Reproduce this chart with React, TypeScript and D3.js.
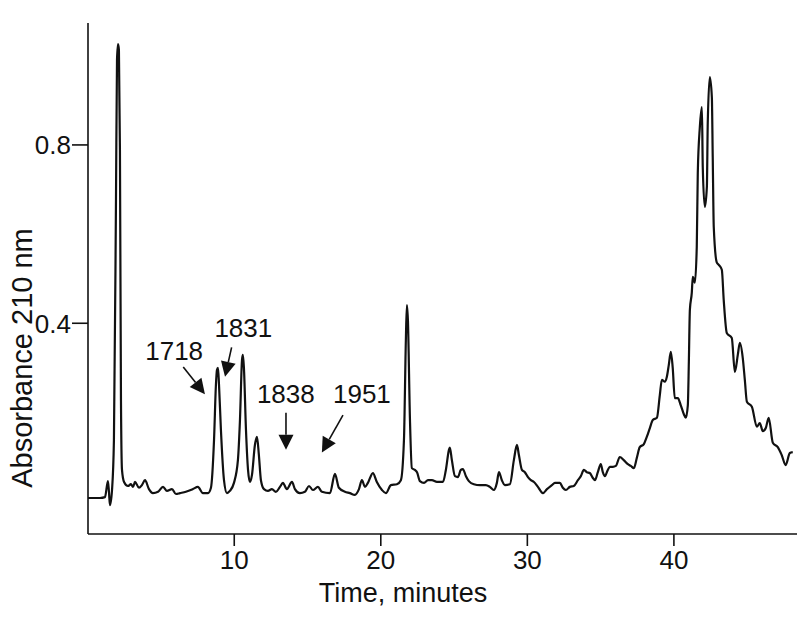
import React from "react";
import * as d3 from "d3";

// Chromatogram trace: time (minutes) and absorbance at 210 nm
const times: number[] = [
  0.02, 0.84, 1.18, 1.38, 1.45, 1.52, 1.66, 1.79, 1.93, 2.0, 2.07, 2.13, 2.2, 2.27, 2.34, 2.48, 2.75, 2.95, 3.09, 3.23,
  3.5, 3.7, 3.91, 4.18, 4.45, 4.8, 5.14, 5.41, 5.75, 6.02, 6.3, 6.7, 7.18, 7.52, 7.86, 8.21, 8.41, 8.62, 8.75, 8.82,
  8.89, 8.96, 9.09, 9.3, 9.5, 9.7, 9.98, 10.25, 10.39, 10.53, 10.59, 10.66, 10.8, 10.94, 11.07, 11.21, 11.41, 11.55, 11.68, 11.82,
  12.03, 12.3, 12.57, 12.84, 13.12, 13.32, 13.59, 13.94, 14.14, 14.48, 14.82, 15.1, 15.37, 15.71, 15.98, 16.53, 16.87, 17.14, 17.55, 17.89,
  18.23, 18.51, 18.71, 18.92, 19.12, 19.46, 19.73, 20.08, 20.35, 20.69, 21.1, 21.37, 21.58, 21.71, 21.78, 21.85, 21.99, 22.12, 22.33, 22.47,
  22.67, 22.95, 23.22, 23.49, 23.83, 24.24, 24.44, 24.65, 24.71, 24.85, 25.06, 25.26, 25.46, 25.6, 25.81, 26.01, 26.35, 26.76, 27.17, 27.44,
  27.71, 27.92, 28.06, 28.26, 28.47, 28.81, 29.08, 29.29, 29.42, 29.63, 29.83, 30.04, 30.24, 30.45, 30.72, 31.06, 31.34, 31.68, 31.88, 32.22,
  32.42, 32.63, 32.9, 33.17, 33.45, 33.65, 33.86, 34.06, 34.26, 34.47, 34.61, 34.81, 35.01, 35.15, 35.29, 35.49, 35.63, 35.84, 36.04, 36.31,
  36.58, 36.86, 37.06, 37.27, 37.47, 37.67, 37.95, 38.15, 38.36, 38.56, 38.84, 39.04, 39.18, 39.38, 39.52, 39.65, 39.79, 39.92, 40.06, 40.27,
  40.47, 40.68, 40.81, 40.95, 41.02, 41.09, 41.22, 41.29, 41.43, 41.56, 41.63, 41.77, 41.91, 41.97, 42.11, 42.25, 42.31, 42.45, 42.59, 42.65,
  42.72, 42.93, 43.06, 43.27, 43.4, 43.61, 43.95, 44.16, 44.36, 44.5, 44.7, 44.84, 44.98, 45.32, 45.66, 45.86, 46.07, 46.27, 46.47, 46.75,
  47.09, 47.36, 47.63, 47.91, 48.11,
];

const absorbance: number[] = [
  0.008, 0.008, 0.01, 0.046, 0.022, -0.008, 0.026, 0.138, 0.677, 0.991, 1.026, 1.013, 0.789, 0.228, 0.071, 0.044, 0.035, 0.039, 0.033, 0.044,
  0.031, 0.037, 0.048, 0.028, 0.019, 0.022, 0.033, 0.024, 0.028, 0.017, 0.019, 0.022, 0.028, 0.033, 0.019, 0.019, 0.031, 0.138, 0.262, 0.295,
  0.3, 0.262, 0.161, 0.048, 0.019, 0.024, 0.042, 0.093, 0.183, 0.318, 0.329, 0.3, 0.161, 0.071, 0.044, 0.06, 0.127, 0.145, 0.105, 0.048,
  0.028, 0.024, 0.028, 0.022, 0.033, 0.042, 0.028, 0.044, 0.028, 0.019, 0.022, 0.035, 0.026, 0.033, 0.022, 0.019, 0.062, 0.031, 0.022, 0.019,
  0.015, 0.028, 0.048, 0.033, 0.042, 0.064, 0.044, 0.026, 0.019, 0.037, 0.039, 0.048, 0.138, 0.362, 0.441, 0.407, 0.183, 0.075, 0.071, 0.066,
  0.046, 0.042, 0.048, 0.048, 0.044, 0.044, 0.071, 0.116, 0.121, 0.093, 0.057, 0.055, 0.071, 0.073, 0.057, 0.046, 0.039, 0.037, 0.037, 0.033,
  0.026, 0.042, 0.066, 0.048, 0.037, 0.039, 0.093, 0.127, 0.105, 0.071, 0.066, 0.055, 0.048, 0.044, 0.033, 0.019, 0.028, 0.037, 0.042, 0.042,
  0.031, 0.026, 0.033, 0.035, 0.048, 0.057, 0.071, 0.066, 0.064, 0.053, 0.048, 0.066, 0.084, 0.066, 0.057, 0.071, 0.078, 0.078, 0.08, 0.1,
  0.093, 0.084, 0.08, 0.075, 0.098, 0.122, 0.129, 0.145, 0.165, 0.183, 0.188, 0.239, 0.273, 0.269, 0.28, 0.306, 0.336, 0.3, 0.232, 0.232,
  0.216, 0.196, 0.188, 0.216, 0.313, 0.43, 0.468, 0.504, 0.491, 0.571, 0.737, 0.84, 0.885, 0.75, 0.661, 0.706, 0.849, 0.952, 0.907, 0.773,
  0.616, 0.536, 0.531, 0.52, 0.452, 0.378, 0.367, 0.291, 0.329, 0.356, 0.322, 0.273, 0.224, 0.213, 0.168, 0.176, 0.158, 0.165, 0.188, 0.132,
  0.122, 0.104, 0.082, 0.109, 0.111,
];

const xTicks: number[] = [10, 20, 30, 40];
const yTicks: number[] = [0.4, 0.8];
const yTickLabels: string[] = ["0.4", "0.8"];

// Peak annotations (labels, label anchor, arrow start and tip in data units)
const annLabels: string[] = ["1718", "1831", "1838", "1951"];
const annTextT: number[] = [5.9, 10.62, 13.52, 18.71];
const annTextV: number[] = [0.318, 0.369, 0.221, 0.222];
const annFromT: number[] = [6.52, 9.82, 13.53, 17.42];
const annFromV: number[] = [0.302, 0.346, 0.199, 0.194];
const annToT: number[] = [8.0, 9.37, 13.53, 15.98];
const annToV: number[] = [0.241, 0.28, 0.116, 0.11];

const W = 800;
const H = 620;
const FONT = "'Liberation Sans', Arial, Helvetica, sans-serif";

export default function App() {
  const x = d3.scaleLinear().domain([0, 48.4]).range([87.7, 797]);
  const y = d3.scaleLinear().domain([-0.0727, 1.0735]).range([534, 23]);

  const data = times.map((t, i) => [t, absorbance[i]] as [number, number]);
  const line = d3
    .line<[number, number]>()
    .x((d) => x(d[0]))
    .y((d) => y(d[1]))
    .curve(d3.curveMonotoneX);

  const x0 = 88;
  const x1 = 797;
  const yBase = 534;
  const yTop = 23;

  const arrows = annLabels.map((lab, i) => {
    const sx = x(annFromT[i]);
    const sy = y(annFromV[i]);
    const ex = x(annToT[i]);
    const ey = y(annToV[i]);
    const dx = ex - sx;
    const dy = ey - sy;
    const len = Math.sqrt(dx * dx + dy * dy);
    const ux = dx / len;
    const uy = dy / len;
    const headL = 15;
    const headW = 7.5;
    const bx = ex - ux * headL;
    const by = ey - uy * headL;
    const px = -uy;
    const py = ux;
    const head = `M${ex},${ey}L${bx + px * headW},${by + py * headW}L${bx - px * headW},${by - py * headW}Z`;
    return { lab, sx, sy, bx, by, head, tx: x(annTextT[i]), ty: y(annTextV[i]) };
  });

  return (
    <svg
      width={W}
      height={H}
      style={{ position: "absolute", left: 0, top: 0, background: "#ffffff" }}
      fontFamily={FONT}
    >
      <rect x={0} y={0} width={W} height={H} fill="#ffffff" />
      {/* axes */}
      <line x1={x0} y1={yTop} x2={x0} y2={yBase} stroke="#111" strokeWidth={1.6} />
      <line x1={x0} y1={yBase} x2={x1} y2={yBase} stroke="#111" strokeWidth={1.6} />
      {yTicks.map((v, i) => (
        <g key={"yt" + i}>
          <line x1={72} x2={x0} y1={y(v)} y2={y(v)} stroke="#111" strokeWidth={1.6} />
          <text x={71} y={y(v)} dy="0.36em" textAnchor="end" fontSize={26} fill="#111">
            {yTickLabels[i]}
          </text>
        </g>
      ))}
      {xTicks.map((t, i) => (
        <g key={"xt" + i}>
          <line x1={x(t)} x2={x(t)} y1={yBase} y2={yBase + 12} stroke="#111" strokeWidth={1.6} />
          <text x={x(t)} y={569} textAnchor="middle" fontSize={26} fill="#111">
            {String(t)}
          </text>
        </g>
      ))}
      <text x={403} y={602} textAnchor="middle" fontSize={27} fill="#111">
        Time, minutes
      </text>
      <text
        transform={`translate(32,358) rotate(-90)`}
        textAnchor="middle"
        fontSize={29}
        fill="#111"
      >
        Absorbance 210 nm
      </text>
      {/* trace */}
      <path d={line(data) || ""} fill="none" stroke="#111" strokeWidth={2.2} strokeLinejoin="round" />
      {/* annotations */}
      {arrows.map((a, i) => (
        <g key={"an" + i}>
          <text x={a.tx} y={a.ty} textAnchor="middle" fontSize={26} fill="#111">
            {a.lab}
          </text>
          <line x1={a.sx} y1={a.sy} x2={a.bx} y2={a.by} stroke="#111" strokeWidth={1.6} />
          <path d={a.head} fill="#111" />
        </g>
      ))}
    </svg>
  );
}
